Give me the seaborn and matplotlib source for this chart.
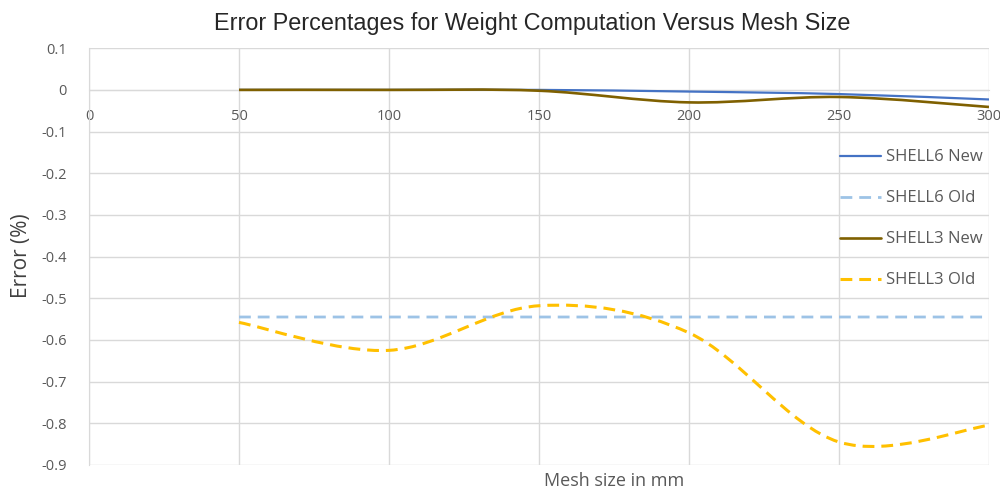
"""Error percentages for weight computation vs mesh size (Excel-style smooth lines)."""

import matplotlib
matplotlib.use('Agg')
import matplotlib.pyplot as plt
from matplotlib.path import Path
from matplotlib.patches import PathPatch
from matplotlib.lines import Line2D
import numpy as np
import seaborn as sns

# data
mesh_size = [50, 100, 150, 200, 250, 300]
shell6_new = [0.0, 0.0, 0.0, -0.004, -0.010, -0.023]
shell6_old = [-0.545, -0.545, -0.545, -0.545, -0.545, -0.545]
shell3_new = [0.0, 0.0, -0.002, -0.030, -0.017, -0.041]
shell3_old = [-0.558, -0.625, -0.518, -0.583, -0.845, -0.805]

y_ticks = [0.1, 0.0, -0.1, -0.2, -0.3, -0.4, -0.5, -0.6, -0.7, -0.8, -0.9]
y_labels = ['0.1', '0', '-0.1', '-0.2', '-0.3', '-0.4', '-0.5', '-0.6',
            '-0.7', '-0.8', '-0.9']

series = [
    ('SHELL6 New', shell6_new, '#4472C4', '-', 1.6),
    ('SHELL6 Old', shell6_old, '#9DC3E6', '--', 2.0),
    ('SHELL3 New', shell3_new, '#7F6000', '-', 1.9),
    ('SHELL3 Old', shell3_old, '#FFC000', '--', 2.2),
]

sns.set_style('white')
plt.rcParams['font.family'] = ['Open Sans', 'DejaVu Sans']
plt.rcParams['lines.scale_dashes'] = False

GRAY = '#595959'
GRID = '#D9D9D9'


def smooth_path(xs, ys):
    """Catmull-Rom style bezier through the points (like Excel 'smoothed line')."""
    pts = np.column_stack([xs, ys]).astype(float)
    n = len(pts)
    verts = [pts[0]]
    codes = [Path.MOVETO]
    for i in range(n - 1):
        p0 = pts[max(i - 1, 0)]
        p1 = pts[i]
        p2 = pts[i + 1]
        p3 = pts[min(i + 2, n - 1)]
        c1 = p1 + (p2 - p0) / 6.0
        c2 = p2 - (p3 - p1) / 6.0
        verts += [c1, c2, p2]
        codes += [Path.CURVE4] * 3
    return Path(verts, codes)


fig = plt.figure(figsize=(10, 4.92), dpi=100)
ax = fig.add_axes([0.089, 0.055, 0.900, 0.847])

dash = (0, (8.5, 5))
handles = []
for name, vals, color, ls, lw in series:
    style = dash if ls == '--' else '-'
    patch = PathPatch(smooth_path(mesh_size, vals), facecolor='none',
                      edgecolor=color, lw=lw, linestyle=style,
                      capstyle='butt', zorder=3)
    ax.add_patch(patch)
    handles.append(Line2D([], [], color=color, lw=lw, linestyle=style,
                          label=name))

ax.set_xlim(0, 300)
ax.set_ylim(-0.9, 0.1)
ax.set_xticks(range(0, 301, 50))
ax.set_yticks(y_ticks)
ax.set_yticklabels(y_labels)
ax.grid(True, color=GRID, lw=1)
ax.set_axisbelow(True)

# x axis crosses at y = 0 like Excel
for s in ['top', 'right']:
    ax.spines[s].set_visible(False)
ax.spines['bottom'].set_position(('data', 0))
ax.spines['bottom'].set_color(GRID)
ax.spines['left'].set_color(GRID)
ax.tick_params(axis='both', length=0, labelsize=10.5, labelcolor=GRAY)
ax.tick_params(axis='x', pad=14)
ax.tick_params(axis='y', pad=16)

fig.text(0.532, 0.953, 'Error Percentages for Weight Computation Versus Mesh Size',
         ha='center', va='center', fontsize=16.8, color='#262626',
         family='Liberation Sans')
fig.text(0.614, 0.022, 'Mesh size in mm', ha='center', va='center',
         fontsize=13, color=GRAY)
fig.text(0.021, 0.48, 'Error (%)', ha='center', va='center', rotation=90,
         fontsize=15, color='#404040')

fig.legend(handles=handles, loc='upper left', bbox_to_anchor=(0.833, 0.71),
           frameon=False, fontsize=12, labelcolor=GRAY, handlelength=2.5,
           handletextpad=0.25, labelspacing=1.5, borderaxespad=0)

fig.savefig('out.png', dpi=100)
